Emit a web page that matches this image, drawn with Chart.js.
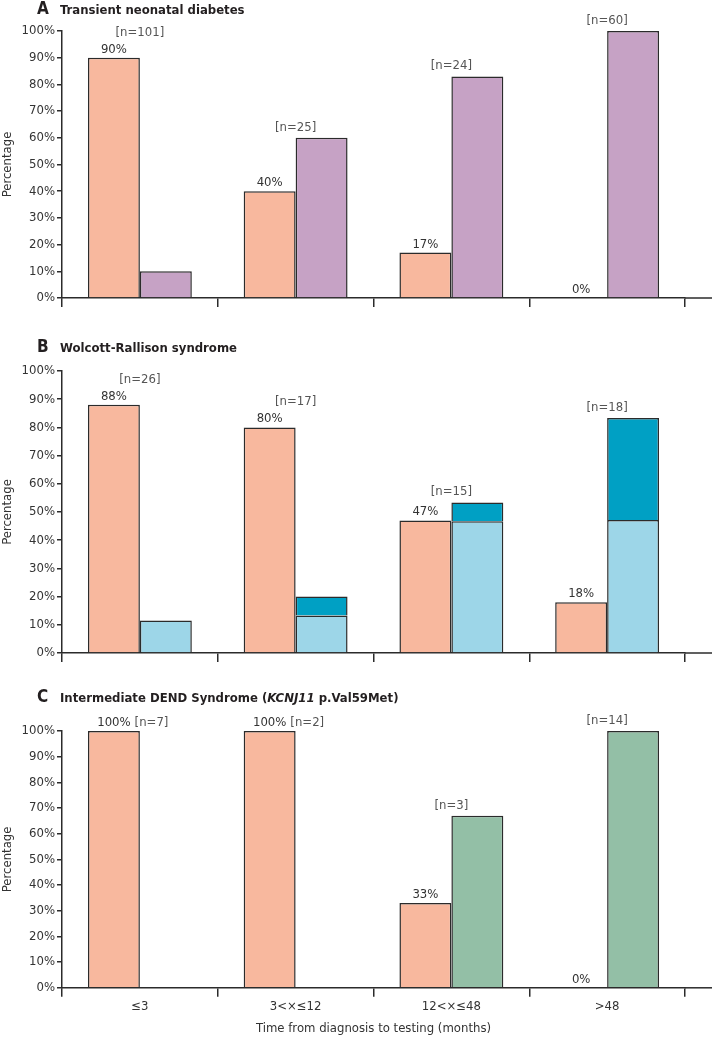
<!DOCTYPE html>
<html>
<head>
<meta charset="utf-8">
<script src="https://cdn.jsdelivr.net/npm/chart.js@4"></script>
<style>
  body { margin: 0; background: #fff; width: 714px; height: 1038px; position: relative; overflow: hidden;
         font-family: 'Liberation Sans Narrow', 'DejaVu Sans Condensed', 'Open Sans', sans-serif; color: #231f20; }
  .ttl { position: absolute; left: 37px; font-weight: bold; font-size: 13px; white-space: nowrap; z-index: 2; }
  .ttl b { font-size: 17px; display: inline-block; width: 23px; }
  canvas { position: absolute; left: 0; }
</style>
</head>
<body>
<canvas id="chartA" width="714" height="320" style="top:0px"></canvas>
<canvas id="chartB" width="714" height="345" style="top:330px"></canvas>
<canvas id="chartC" width="714" height="348" style="top:690px"></canvas>
<div class="ttl" style="top:-2px"><b>A</b>Transient neonatal diabetes</div>
<div class="ttl" style="top:336px"><b>B</b>Wolcott-Rallison syndrome</div>
<div class="ttl" style="top:686px"><b>C</b>Intermediate DEND Syndrome (<i>KCNJ11</i> p.Val59Met)</div>
<script>
// categories and values (percent)
const categories = ['≤3', '3<×≤12', '12<×≤48', '>48'];

const tndPink = [90, 40, 17, 0];
const tndPurple = [10, 60, 83, 100];
const tndN = [101, 25, 24, 60];

const wrsPink = [88, 80, 47, 18];
const wrsLight = [11.5, 13.3, 46.7, 47.2];
const wrsDark = [0, 6.7, 6.7, 36.1];
const wrsN = [26, 17, 15, 18];

const dendPink = [100, 100, 33, 0];
const dendGreen = [0, 0, 67, 100];
const dendN = [7, 2, 3, 14];

const FONT = "'Liberation Sans Narrow', 'DejaVu Sans Condensed', 'Open Sans', sans-serif";
const PINK = '#f8b89e', PURPLE = '#c6a2c5', LIGHT = '#9dd6e8', DARK = '#00a0c4', GREEN = '#93bfa6';
const EDGE = '#2b2b2b';

function bar(label, data, color, stack) {
  return { label, data, backgroundColor: color, borderColor: EDGE, borderWidth: 1.5, stack: stack || label };
}

// pink % label above pink bar, [n=..] label above the group
const labelPlugin = {
  id: 'labels',
  afterDatasetsDraw(chart, args, opts) {
    const ctx = chart.ctx;
    const xs = chart.scales.x;
    const pinkMeta = chart.getDatasetMeta(0);
    ctx.save();
    ctx.font = '13px ' + FONT;
    ctx.textBaseline = 'alphabetic';
    opts.n.forEach((n, i) => {
      const pb = pinkMeta.data[i];
      const val = chart.data.datasets[0].data[i];
      const pct = Math.round(val) + '%';
      const pctY = pb.y - 5;
      ctx.textAlign = 'center';
      ctx.fillStyle = '#333';
      ctx.fillText(pct, pb.x, pctY);
      let top = Infinity;
      chart.data.datasets.forEach((d, k) => {
        if (k > 0 && d.data[i] > 0) top = Math.min(top, chart.getDatasetMeta(k).data[i].y);
      });
      const txt = '[n=' + n + ']';
      ctx.fillStyle = '#555';
      if (val >= 100) {
        const w = ctx.measureText(pct).width;
        ctx.textAlign = 'left';
        ctx.fillText(txt, pb.x + w / 2 + 4, pctY);
      } else if (pb.y <= top) {
        ctx.fillText(txt, xs.getPixelForValue(i), pctY - 17);
      } else {
        ctx.fillText(txt, xs.getPixelForValue(i), top - 7);
      }
    });
    // axis line runs on to the right edge
    const a = chart.chartArea;
    ctx.strokeStyle = EDGE;
    ctx.lineWidth = 1.5;
    ctx.beginPath();
    ctx.moveTo(a.right, a.bottom);
    ctx.lineTo(712, a.bottom);
    ctx.stroke();
    ctx.restore();
  }
};

function makeChart(id, datasets, n, showX, stacked, padTop) {
  return new Chart(document.getElementById(id), {
    type: 'bar',
    data: { labels: categories, datasets },
    plugins: [labelPlugin],
    options: {
      responsive: false,
      animation: false,
      layout: { padding: { top: padTop, right: 29, left: 0, bottom: showX ? 2 : 10 } },
      datasets: { bar: { categoryPercentage: 0.667, barPercentage: 1 } },
      plugins: { legend: { display: false }, tooltip: { enabled: false }, labels: { n } },
      scales: {
        x: {
          stacked,
          offset: true,
          border: { color: EDGE, width: 1.5 },
          grid: { offset: true, drawOnChartArea: false, tickLength: 9, color: EDGE, lineWidth: 1.5 },
          ticks: { display: showX, color: '#333', font: { family: FONT, size: 13 }, padding: 2 },
          title: { display: showX, text: 'Time from diagnosis to testing (months)', color: '#333',
                   font: { family: FONT, size: 13 }, padding: { top: 4, bottom: 0 } },
          afterFit(s) { if (!showX) s.height = 12; }
        },
        y: {
          stacked,
          min: 0, max: 100,
          border: { color: EDGE, width: 1.5 },
          grid: { drawOnChartArea: false, tickLength: 5, color: EDGE, lineWidth: 1.5 },
          ticks: { stepSize: 10, padding: 2, color: '#333', font: { family: FONT, size: 13 },
                   callback: v => v + '%' },
          title: { display: true, text: 'Percentage', color: '#333', font: { family: FONT, size: 13 }, padding: 0 },
          afterFit(s) { s.width = 62; }
        }
      }
    }
  });
}

makeChart('chartA', [bar('pink', tndPink, PINK), bar('purple', tndPurple, PURPLE)], tndN, false, false, 31);
makeChart('chartB', [bar('pink', wrsPink, PINK, 'a'), bar('light', wrsLight, LIGHT, 'b'), bar('dark', wrsDark, DARK, 'b')], wrsN, false, true, 41);
makeChart('chartC', [bar('pink', dendPink, PINK), bar('green', dendGreen, GREEN)], dendN, true, false, 41);
</script>
</body>
</html>
